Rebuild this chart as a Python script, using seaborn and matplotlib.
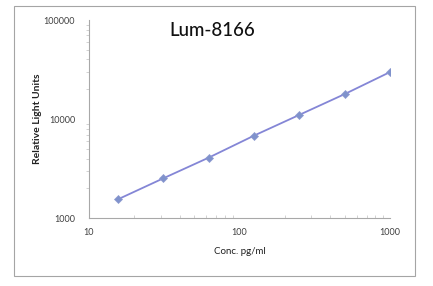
import matplotlib
matplotlib.use("Agg")
import matplotlib.pyplot as plt
import matplotlib.patches as mpatches
from matplotlib.ticker import LogLocator, FixedLocator, NullFormatter
import seaborn as sns
import pandas as pd

conc = [15.6, 31.25, 62.5, 125, 250, 500, 1000]
rlu = [1556, 2535, 4094, 6826, 11050, 17900, 29850]
x_ticks = [10, 100, 1000]
x_tick_labels = ["10", "100", "1000"]
y_ticks = [1000, 10000, 100000]
y_tick_labels = ["1000", "10000", "100000"]

df = pd.DataFrame({"conc": conc, "rlu": rlu})

sns.set_style("white")
plt.rcParams['font.family'] = ['Lato', 'DejaVu Sans']

fig = plt.figure(figsize=(4.33, 2.86), dpi=100)
ax = fig.add_axes([89/433, 1-218.3/286, (390-89)/433, (218.3-20)/286])

sns.lineplot(data=df, x="conc", y="rlu", ax=ax, color="#8486d6", linewidth=1.3,
             marker="D", markersize=4.5, markerfacecolor="#7f92cc",
             markeredgecolor="#8f9bd0", markeredgewidth=0.5)

ax.set_xscale("log")
ax.set_yscale("log")
ax.set_xlim(10, 1000)
ax.set_ylim(1000, 100000)
ax.xaxis.set_major_locator(FixedLocator(x_ticks))
ax.set_xticklabels(x_tick_labels)
ax.yaxis.set_major_locator(FixedLocator(y_ticks))
ax.set_yticklabels(y_tick_labels)
ax.xaxis.set_minor_locator(LogLocator(base=10, subs=range(2, 10)))
ax.yaxis.set_minor_locator(LogLocator(base=10, subs=range(2, 10)))
ax.xaxis.set_minor_formatter(NullFormatter())
ax.yaxis.set_minor_formatter(NullFormatter())

for s in ["top", "right"]:
    ax.spines[s].set_visible(False)
for s in ["left", "bottom"]:
    ax.spines[s].set_color("#a8a8a8")
    ax.spines[s].set_linewidth(0.8)

ax.tick_params(axis="both", which="major", direction="out", length=4, width=0.7,
               color="#a8a8a8", labelsize=6.5, labelcolor="#404040")
ax.tick_params(axis="y", which="major", pad=6)
ax.tick_params(axis="x", which="major", pad=3)
ax.tick_params(axis="y", which="minor", direction="out", length=2, width=0.5,
               color="#c0c0c0", left=True)
ax.tick_params(axis="x", which="minor", direction="in", length=2, width=0.5,
               color="#c0c0c0", bottom=True)

ax.set_xlabel("Conc. pg/ml", fontsize=7, color="#202020", labelpad=7)
ax.set_ylabel("Relative Light Units", fontsize=7.5, fontweight="bold", color="#202020",
              labelpad=1)

fig.text(212/433, 1-30/286, "Lum-8166", fontsize=13.5, color="#111111",
         fontweight="medium", ha="center", va="center")

frame = mpatches.Rectangle((14/433, 1-276/286), (415-14)/433, (276-6)/286,
                           transform=fig.transFigure, fill=False,
                           edgecolor="#a5a5a5", linewidth=0.8)
fig.patches.append(frame)

fig.savefig("out.png", dpi=100)
